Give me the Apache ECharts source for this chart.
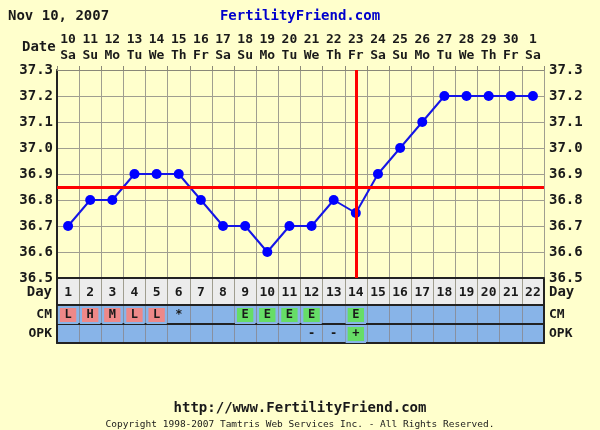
<!DOCTYPE html>
<html><head><meta charset="utf-8">
<script src="https://cdn.jsdelivr.net/npm/echarts@6/dist/echarts.min.js"></script>
<style>html,body{margin:0;padding:0;background:#ffffcc}#c{width:600px;height:430px}</style>
</head><body><div id="c"></div><script>
// ---- data ----
const days = ['1','2','3','4','5','6','7','8','9','10','11','12','13','14','15','16','17','18','19','20','21','22'];
const dates = ['10','11','12','13','14','15','16','17','18','19','20','21','22','23','24','25','26','27','28','29','30','1'];
const weekdays = ['Sa','Su','Mo','Tu','We','Th','Fr','Sa','Su','Mo','Tu','We','Th','Fr','Sa','Su','Mo','Tu','We','Th','Fr','Sa'];
const temps = [36.7,36.8,36.8,36.9,36.9,36.9,36.8,36.7,36.7,36.6,36.7,36.7,36.8,36.75,36.9,37.0,37.1,37.2,37.2,37.2,37.2,37.2];
const cm = ['L','H','M','L','L','*','','','E','E','E','E','','E','','','','','','','',''];
const opk = ['','','','','','','','','','','','-','-','+','','','','','','','',''];
const coverline = 36.85;
const ovulationDay = '14';
const tempMin = 36.5, tempMax = 37.3, tempStep = 0.1;

// ---- styles ----
const FONT = '"DejaVu Sans Mono", monospace';
const INK = '#1a1a1a';
const GRIDC = '#a09e90';
const DARK = '#222222';
const BLUE_ROW = '#88b4e8';
const DAY_ROW = '#ececec';
const cmColor = {L:'#ee8888', H:'#ee8888', M:'#ee8888', E:'#66dd66'};
const opkColor = {'+':'#66dd66'};

const chart = echarts.init(document.getElementById('c'));
const L = 57, R = 56;

function rowY(gridIndex, name, pos, size) {
  return {
    type:'value', gridIndex, position:pos, min:0, max:1, interval:0.5,
    axisLine:{show:true, lineStyle:{color:DARK, width:2}},
    axisTick:{show:false}, splitLine:{show:false},
    axisLabel:{show:true, margin:5, color:INK, fontFamily:FONT, fontWeight:'bold', fontSize:size,
      formatter: v => Math.abs(v-0.5) < 1e-6 ? name : ''}
  };
}
function rowX(gridIndex) {
  return {
    type:'category', gridIndex, data:days, boundaryGap:true, position:'bottom',
    axisLine:{show:true, lineStyle:{color:DARK, width:2}},
    axisTick:{show:false}, axisLabel:{show:false},
    splitLine:{show:true, lineStyle:{color:'#8890a0', width:1}}
  };
}
const tempY = pos => ({
  type:'value', gridIndex:0, position:pos, min:tempMin, max:tempMax, interval:tempStep,
  axisLine:{show:true, lineStyle:{color: pos==='left' ? DARK : GRIDC, width: pos==='left' ? 2 : 1}},
  axisTick:{show:false},
  splitLine:{show:true, lineStyle:{color:GRIDC, width:1}},
  axisLabel:{margin: pos==='left'?4:5, color:INK, fontFamily:FONT, fontWeight:'bold', fontSize:14,
    formatter: v => v.toFixed(1)}
});

const cellLabel = arr => ({show:true, position:'inside', color:INK, fontFamily:FONT, fontWeight:'bold', fontSize:12,
  formatter: p => arr[p.dataIndex]});
const cellData = (arr, colors) => arr.map(c => c ? {value:1, itemStyle: colors[c]
  ? {color:colors[c], borderColor:BLUE_ROW, borderWidth:2}
  : {color:'rgba(0,0,0,0)', borderWidth:0}} : null);

chart.setOption({
  backgroundColor:'#ffffcc',
  animation:false,
  title:[
    {text:'Nov 10, 2007', left:3, top:4, textStyle:{fontFamily:FONT, fontSize:14, fontWeight:'bold', color:INK}},
    {text:'FertilityFriend.com', left:'center', top:4, textStyle:{fontFamily:FONT, fontSize:14, fontWeight:'bold', color:'#0000cc'}},
    {text:'http://www.FertilityFriend.com', left:'center', top:396, textStyle:{fontFamily:FONT, fontSize:14, fontWeight:'bold', color:INK}},
    {text:'Copyright 1998-2007 Tamtris Web Services Inc. - All Rights Reserved.', left:'center', top:415,
      textStyle:{fontFamily:FONT, fontSize:9.5, fontWeight:'normal', color:INK}}
  ],
  graphic:[
    {type:'text', left:22, top:40, style:{text:'Date', fontFamily:FONT, fontWeight:'bold', fontSize:14, fill:INK}}
  ],
  grid:[
    {left:L, right:R, top:70, height:208, show:true, backgroundColor:'#ffffcc', borderWidth:0},
    {left:L, right:R, top:279, height:26, show:true, backgroundColor:DAY_ROW, borderWidth:0},
    {left:L, right:R, top:306, height:18, show:true, backgroundColor:BLUE_ROW, borderWidth:0},
    {left:L, right:R, top:325, height:18, show:true, backgroundColor:BLUE_ROW, borderWidth:0}
  ],
  xAxis:[
    {type:'category', gridIndex:0, data:days, boundaryGap:true, position:'bottom',
      axisLine:{show:true, lineStyle:{color:DARK, width:2}}, axisTick:{show:false}, axisLabel:{show:false},
      splitLine:{show:true, lineStyle:{color:GRIDC, width:1}}},
    {type:'category', gridIndex:0, data:dates, boundaryGap:true, position:'top',
      axisLine:{show:true, lineStyle:{color:'#8a8878', width:1}},
      axisTick:{show:true, length:4, lineStyle:{color:'#8a8878'}},
      axisLabel:{margin:6, interval:0, color:INK, fontFamily:FONT, fontWeight:'bold', fontSize:13, lineHeight:16,
        formatter:(v,i) => v + '\n' + weekdays[i]}},
    Object.assign(rowX(1), {axisLabel:{show:true, inside:true, margin:6, interval:0, color:INK, fontFamily:FONT, fontWeight:'bold', fontSize:13},
      splitLine:{show:true, lineStyle:{color:GRIDC, width:1}}}),
    rowX(2),
    rowX(3)
  ],
  yAxis:[
    tempY('left'), tempY('right'),
    rowY(1,'Day','left',14), rowY(1,'Day','right',14),
    rowY(2,'CM','left',13), rowY(2,'CM','right',13),
    rowY(3,'OPK','left',13), rowY(3,'OPK','right',13)
  ],
  series:[
    {type:'line', xAxisIndex:0, yAxisIndex:0, data:temps, symbol:'circle', symbolSize:10,
      lineStyle:{color:'#1515e6', width:2}, itemStyle:{color:'#0000ff'}, z:3,
      markLine:{silent:true, symbol:'none', label:{show:false},
        lineStyle:{color:'#ff0000', width:3, type:'solid'},
        data:[{xAxis:ovulationDay}, {yAxis:coverline}]}},
    {type:'bar', xAxisIndex:3, yAxisIndex:4, data:cellData(cm, cmColor), barCategoryGap:'8%', label:cellLabel(cm)},
    {type:'bar', xAxisIndex:4, yAxisIndex:6, data:cellData(opk, opkColor), barCategoryGap:'8%', label:cellLabel(opk)}
  ]
});
</script></body></html>
